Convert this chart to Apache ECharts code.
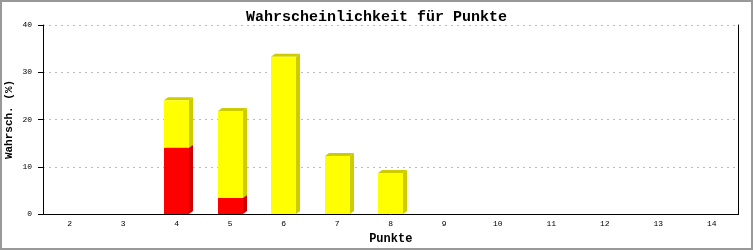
<!DOCTYPE html>
<html>
<head>
<meta charset="utf-8">
<script src="https://cdn.jsdelivr.net/npm/echarts@6/dist/echarts.min.js"></script>
<style>
html,body{margin:0;padding:0;background:#fff;}
#c{width:753px;height:250px;}
</style>
</head>
<body>
<div id="c"></div>
<script>
var categories = ['2','3','4','5','6','7','8','9','10','11','12','13','14'];
var redValues    = [0, 0, 14.0, 3.4, 0, 0, 0, 0, 0, 0, 0, 0, 0];
var yellowValues = [0, 0, 10.1, 18.4, 33.3, 12.3, 8.7, 0, 0, 0, 0, 0, 0];
var yTicks = [0, 10, 20, 30, 40];

var DX = 4, DY = 3;
function box(x0, x1, yT, yB, front, dark) {
  return [
    {type:'polygon', shape:{points:[[x1,yT],[x1+DX,yT-DY],[x1+DX,yB-DY],[x1,yB]]}, style:{fill:dark}},
    {type:'polygon', shape:{points:[[x0,yT],[x0+DX,yT-DY],[x1+DX,yT-DY],[x1,yT]]}, style:{fill:dark}},
    {type:'rect', shape:{x:x0, y:yT, width:x1-x0, height:yB-yT}, style:{fill:front}}
  ];
}

var data = categories.map(function(c, i){ return [i, redValues[i], yellowValues[i]]; });

var chart = echarts.init(document.getElementById('c'), null, {renderer:'canvas'});
chart.setOption({
  animation:false,
  backgroundColor:'#fff',
  title:{
    text:'Wahrscheinlichkeit für Punkte',
    left:'center', top:5,
    textStyle:{fontFamily:'Liberation Mono', fontSize:15, fontWeight:'bold', color:'#000'}
  },
  graphic:[{type:'rect', shape:{x:1,y:1,width:751,height:248}, style:{fill:'none', stroke:'#999', lineWidth:2}, z:100}],
  grid:{left:43, right:14.5, top:25, bottom:36, containLabel:false, outerBoundsMode:'none'},
  xAxis:{
    type:'category', data:categories,
    name:'Punkte', nameLocation:'middle', nameGap:19, nameMoveOverlap:false,
    nameTextStyle:{fontFamily:'Liberation Mono', fontSize:12, fontWeight:'bold', color:'#000'},
    axisLine:{lineStyle:{color:'#000', width:1}},
    axisTick:{show:false},
    axisLabel:{fontFamily:'Liberation Mono', fontSize:8, color:'#000', margin:6},
    splitLine:{show:false}
  },
  yAxis:[{
    type:'value', min:0, max:40, interval:10,
    name:'Wahrsch. (%)', nameLocation:'middle', nameGap:28, nameMoveOverlap:false,
    nameTextStyle:{fontFamily:'Liberation Mono', fontSize:11, fontWeight:'bold', color:'#000'},
    axisLine:{show:true, lineStyle:{color:'#000', width:1}},
    axisTick:{show:true, length:5, lineStyle:{color:'#000'}},
    axisLabel:{fontFamily:'Liberation Mono', fontSize:8, color:'#000', margin:11,
      formatter:function(v){ return yTicks.indexOf(v) >= 0 ? String(v) : ''; }},
    splitLine:{show:true, lineStyle:{color:'#bbb', type:[2,4], width:1}}
  },{
    type:'value', min:0, max:40, interval:10, position:'right',
    axisLine:{show:true, lineStyle:{color:'#000', width:1}},
    axisTick:{show:false}, axisLabel:{show:false}, splitLine:{show:false}
  }],
  series:[{
    type:'custom',
    data:data,
    encode:{x:0, y:[1,2]},
    renderItem:function(params, api){
      var i = api.value(0), r = api.value(1), y = api.value(2);
      var base = api.coord([i, 0]);
      var bw = api.size([1, 0])[0] * 0.467;
      var x0 = Math.round(base[0] - bw/2), x1 = x0 + Math.round(bw);
      var children = [];
      if (r > 0) {
        var pr = api.coord([i, r]);
        children = children.concat(box(x0, x1, pr[1], base[1], '#ff0000', '#cc0000'));
      }
      if (y > 0) {
        var py0 = api.coord([i, r]);
        var py1 = api.coord([i, r + y]);
        children = children.concat(box(x0, x1, py1[1], py0[1], '#ffff00', '#cccc00'));
      }
      return {type:'group', children:children};
    }
  }]
});
</script>
</body>
</html>
